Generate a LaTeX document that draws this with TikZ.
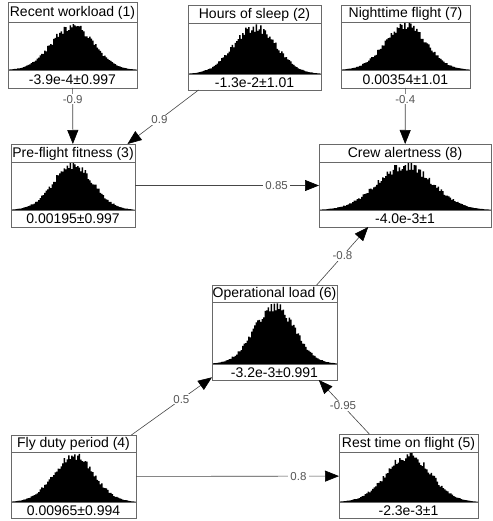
\documentclass[tikz,border=0pt]{standalone}
\usepackage{fontspec}
\setmainfont{Liberation Sans}
\usetikzlibrary{arrows.meta}

\definecolor{framegray}{RGB}{105,105,105}
\definecolor{edgegray}{RGB}{70,70,70}
\definecolor{labelgray}{RGB}{85,85,85}

\tikzset{
  bnframe/.style={draw=framegray, line width=0.9pt, fill=none, inner sep=0pt, outer sep=0pt},
  bnrule/.style={draw=framegray, line width=0.9pt},
  bntext/.style={inner sep=0pt, font=\fontsize{14}{16}\selectfont, text=black},
  bnedge/.style={draw=edgegray, line width=0.6pt,
    -{Triangle[length=14pt,width=11pt,color=black,fill=black]}},
  bnlabel/.style={fill=white, inner xsep=2.5pt, inner ysep=1pt,
    font=\fontsize{11.5}{13}\selectfont, text=labelgray},
}

% #1 name, #2 x1, #3 y1, #4 x2, #5 y2, #6 title rule, #7 histogram base, #8 title, #9 value
\newcommand\bnvariable[9]{%
  \pgfmathsetmacro\bnW{#4-#2}%
  \pgfmathsetmacro\bnH{#7-#6-1}%
  \pgfmathsetmacro\bnMid{(#2+#4)/2}%
  \pgfmathsetmacro\bnSig{0.163*\bnW}%
  \pgfmathtruncatemacro\bnN{\bnW/1.5-1}%
  % sampled histogram of the marginal distribution, 1.5-unit bins
  \fill[black] (#2,#7)
    foreach \i [evaluate=\i as \hh using
      {min(\bnH, 0.93*\bnH*exp(-((#2+1.5*\i+0.75-\bnMid)/\bnSig)^2/2)*(1+0.1*rand))}]
    in {0,...,\bnN} { -- (#2+1.5*\i,#7-\hh) -- (#2+1.5*\i+1.5,#7-\hh) } -- (#4,#7) -- cycle;
  \node[bnframe, minimum width=\bnW, minimum height={#5-#3}, anchor=north west] (#1) at (#2,#3) {};
  \draw[bnrule] (#2,#6) -- (#4,#6);
  \draw[bnrule] (#2,#7) -- (#4,#7);
  \node[bntext] (#1t) at (\bnMid,{(#3+#6)/2+0.5}) {#8};
  \node[bntext] (#1v) at (\bnMid,{(#7+#5)/2+0.5}) {#9};
}

\begin{document}
\begin{tikzpicture}[x=1pt,y=-1pt]
  \fill[white] (0,0) rectangle (492,521);
  \useasboundingbox (0,0) rectangle (492,521);

  \pgfmathsetseed{11}
  \bnvariable{n1}{8}{2}{137}{88}{22}{70}{Recent workload (1)}{-3.9e-4±0.997}
  \pgfmathsetseed{23}
  \bnvariable{n2}{188}{5}{321}{90}{23}{74}{Hours of sleep (2)}{-1.3e-2±1.01}
  \pgfmathsetseed{37}
  \bnvariable{n7}{341}{5}{470}{88}{22}{70}{Nighttime flight (7)}{0.00354±1.01}
  \pgfmathsetseed{41}
  \bnvariable{n3}{11}{144}{135}{227}{162}{210}{Pre-flight fitness (3)}{0.00195±0.997}
  \pgfmathsetseed{53}
  \bnvariable{n8}{319}{144}{491}{227}{162}{210}{Crew alertness (8)}{-4.0e-3±1}
  \pgfmathsetseed{67}
  \bnvariable{n6}{212}{285}{337}{380}{302}{364}{Operational load (6)}{-3.2e-3±0.991}
  \pgfmathsetseed{71}
  \bnvariable{n4}{11}{435}{136}{518}{452}{502}{Fly duty period (4)}{0.00965±0.994}
  \pgfmathsetseed{89}
  \bnvariable{n5}{339}{434}{478}{518}{452}{502}{Rest time on flight (5)}{-2.3e-3±1}

  % influences between variables, labelled with their weights
  \draw[bnedge] (n1) -- node[bnlabel, pos=0.2] {-0.9} (n3);
  \draw[bnedge] (n2) -- node[bnlabel, pos=0.55] {0.9} (n3);
  \draw[bnedge] (n7) -- node[bnlabel, pos=0.2] {-0.4} (n8);
  \draw[bnedge] (n3) -- node[bnlabel, pos=0.77] {0.85} (n8);
  \draw[bnedge] (n6) -- node[bnlabel, pos=0.5] {-0.8} (n8);
  \draw[bnedge] (n4) -- node[bnlabel, pos=0.62] {0.5} (n6);
  \draw[bnedge] (n5) -- node[bnlabel, pos=0.52] {-0.95} (n6);
  \draw[bnedge] (n4) -- node[bnlabel, pos=0.8] {0.8} (n5);
\end{tikzpicture}
\end{document}
